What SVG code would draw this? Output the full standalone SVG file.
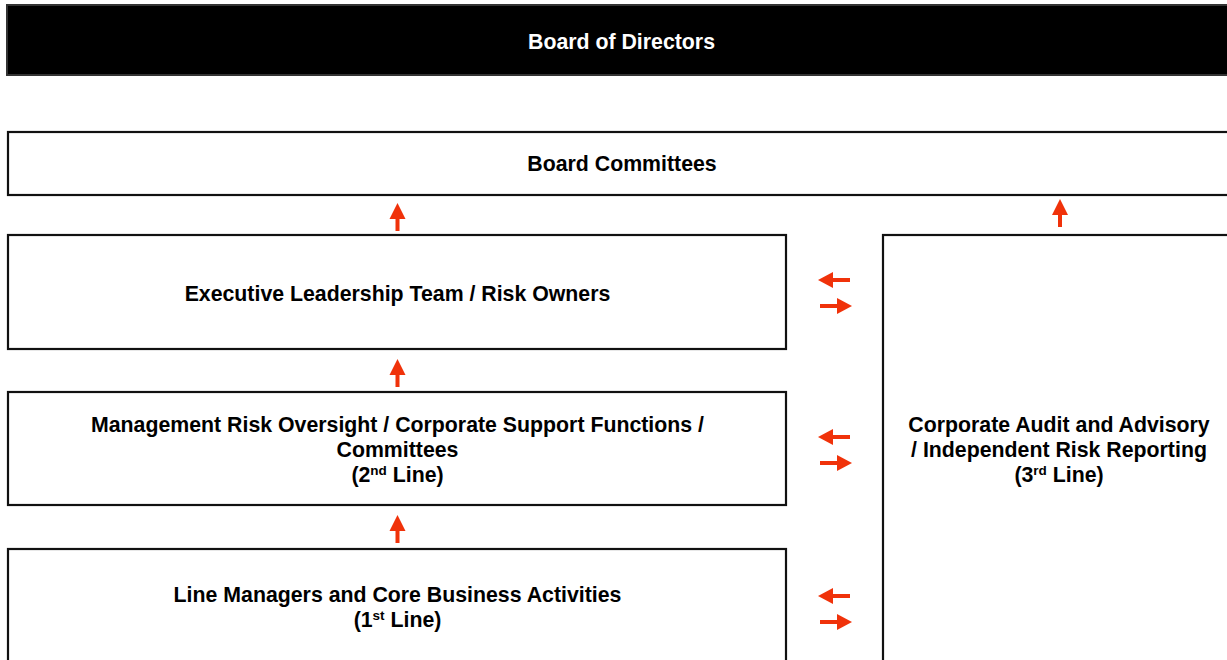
<svg xmlns="http://www.w3.org/2000/svg" width="1227" height="660" viewBox="0 0 1227 660">
<style>
.box{fill:#fff;stroke:#111;stroke-width:2.2}
.t{font-family:"Liberation Sans",Arial,sans-serif;font-weight:bold;font-size:21.3px;fill:#000;text-anchor:middle}
.w{fill:#fff}
.sup{font-size:13.5px}
.arr{fill:#f0320a}
</style>
<defs>
<path id="up" d="M0,0 L8,16 L2,16 L2,28 L-2,28 L-2,16 L-8,16 Z"/>
<path id="lt" d="M0,0 L15,-8 L15,-2 L32,-2 L32,2 L15,2 L15,8 Z"/>
<path id="rt" d="M0,0 L-15,-8 L-15,-2 L-32,-2 L-32,2 L-15,2 L-15,8 Z"/>
</defs>
<rect width="1227" height="660" fill="#fff"/>
<g id="board-directors">
<rect x="7" y="5" width="1230" height="70" fill="#000" stroke="#333" stroke-width="2"/>
<text class="t w" x="621.5" y="48.5">Board of Directors</text>
</g>
<g id="board-committees">
<rect class="box" x="8" y="132" width="1230" height="63"/>
<text class="t" x="622" y="171">Board Committees</text>
</g>
<g id="executive">
<rect class="box" x="8" y="235" width="778" height="114"/>
<text class="t" x="397.5" y="300.5">Executive Leadership Team / Risk Owners</text>
</g>
<g id="management">
<rect class="box" x="8" y="392" width="778" height="113"/>
<text class="t" x="397.5" y="432">Management Risk Oversight / Corporate Support Functions /</text>
<text class="t" x="397.5" y="456.5">Committees</text>
<text class="t" x="397.5" y="481.5">(2<tspan class="sup" dy="-7">nd</tspan><tspan dy="7"> Line)</tspan></text>
</g>
<g id="line-managers">
<rect class="box" x="8" y="549" width="778" height="130"/>
<text class="t" x="397.5" y="601.5">Line Managers and Core Business Activities</text>
<text class="t" x="397.5" y="626.5">(1<tspan class="sup" dy="-7">st</tspan><tspan dy="7"> Line)</tspan></text>
</g>
<g id="corporate-audit">
<rect class="box" x="883" y="235" width="360" height="440"/>
<text class="t" x="1059" y="432">Corporate Audit and Advisory</text>
<text class="t" x="1059" y="456.5">/ Independent Risk Reporting</text>
<text class="t" x="1059" y="481.5">(3<tspan class="sup" dy="-7">rd</tspan><tspan dy="7"> Line)</tspan></text>
</g>
<g id="connectors" class="arr">
<use href="#up" x="397.5" y="203"/>
<use href="#up" x="1060" y="199"/>
<use href="#up" x="397.5" y="359"/>
<use href="#up" x="397.5" y="515"/>
<use href="#lt" x="818" y="280"/>
<use href="#rt" x="852" y="306"/>
<use href="#lt" x="818" y="437"/>
<use href="#rt" x="852" y="463"/>
<use href="#lt" x="818" y="596"/>
<use href="#rt" x="852" y="622"/>
</g>
</svg>
